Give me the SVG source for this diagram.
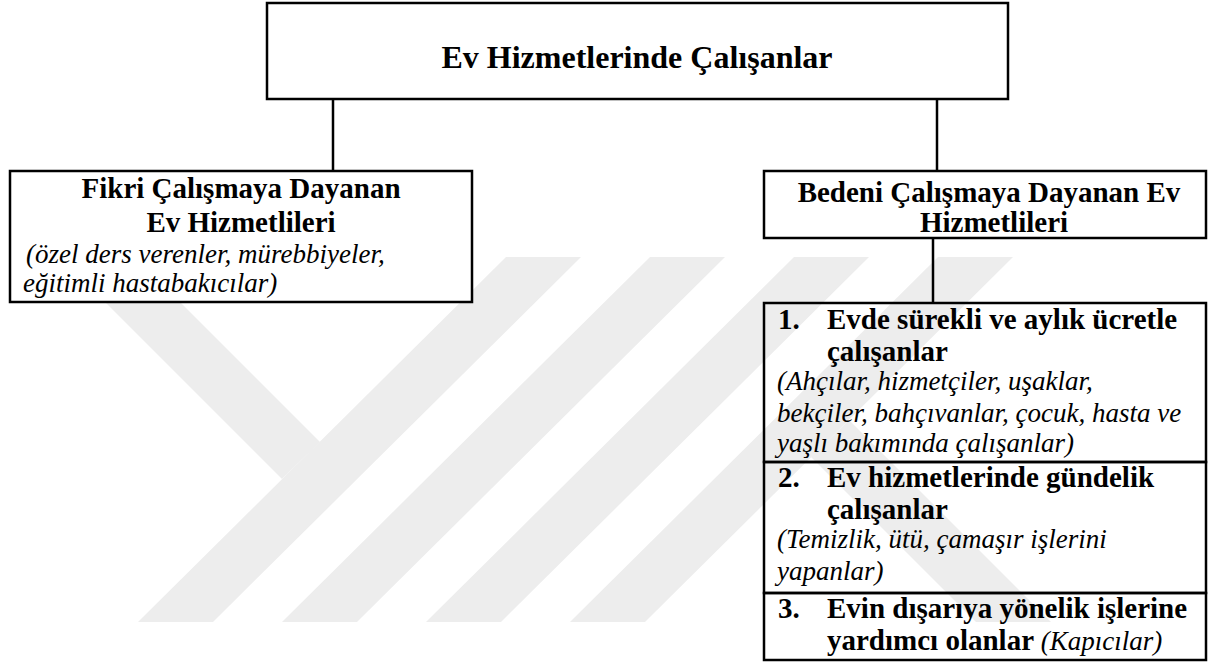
<svg xmlns="http://www.w3.org/2000/svg" width="1213" height="666" viewBox="0 0 1213 666">
<style>
  .box{fill:#ffffff;stroke:#000;stroke-width:2.5}
  .cell{fill:none;stroke:#000;stroke-width:2.5}
  .wire{stroke:#000;stroke-width:2.5;fill:none}
  .wm{fill:#ededed}
  .b{font-family:"Liberation Serif","Times New Roman",serif;font-weight:bold;font-size:29px;fill:#000}
  .i{font-family:"Liberation Serif","Times New Roman",serif;font-style:italic;font-size:27px;fill:#000}
  .t{font-family:"Liberation Serif","Times New Roman",serif;font-weight:bold;font-size:32px;fill:#000}
</style>
<rect width="1213" height="666" fill="#fff"/>
<g id="watermark">
  <polygon class="wm" points="138,622 213,622 581,257 506,257"/>
  <polygon class="wm" points="282,622 357,622 725,257 650,257"/>
  <polygon class="wm" points="426,622 501,622 869,257 794,257"/>
  <polygon class="wm" points="570,622 645,622 1013,257 938,257"/>
  <polygon class="wm" points="60,257 135,257 320,442 282,479"/>
  <polygon class="wm" points="849,420 1051,622 976,622 811,457"/>
</g>
<g id="connectors">
  <line class="wire" x1="333" y1="99" x2="333" y2="171"/>
  <line class="wire" x1="937" y1="99" x2="937" y2="171"/>
  <line class="wire" x1="933" y1="238" x2="933" y2="303"/>
</g>
<g id="root">
  <rect class="box" x="267" y="3" width="741" height="96"/>
  <text class="t" x="637" y="68" text-anchor="middle">Ev Hizmetlerinde Çalışanlar</text>
</g>
<g id="fikri">
  <rect class="box" x="10" y="171" width="462" height="131"/>
  <text class="b" x="241" y="198" text-anchor="middle">Fikri Çalışmaya Dayanan</text>
  <text class="b" x="241" y="232" text-anchor="middle">Ev Hizmetlileri</text>
  <text class="i" x="26" y="263">(özel ders verenler, mürebbiyeler,</text>
  <text class="i" x="23" y="292">eğitimli hastabakıcılar)</text>
</g>
<g id="bedeni">
  <rect class="box" x="764" y="171" width="442" height="67"/>
  <text class="b" x="989" y="202" text-anchor="middle">Bedeni Çalışmaya Dayanan Ev</text>
  <text class="b" x="994" y="232" text-anchor="middle">Hizmetlileri</text>
</g>
<g id="item1">
  <rect class="cell" x="764" y="303" width="442" height="159"/>
  <text class="b" x="778" y="329">1.</text>
  <text class="b" x="827" y="329">Evde sürekli ve aylık ücretle</text>
  <text class="b" x="827" y="361">çalışanlar</text>
  <text class="i" x="777" y="390">(Ahçılar, hizmetçiler, uşaklar,</text>
  <text class="i" x="777" y="422">bekçiler, bahçıvanlar, çocuk, hasta ve</text>
  <text class="i" x="777" y="452">yaşlı bakımında çalışanlar)</text>
</g>
<g id="item2">
  <rect class="cell" x="764" y="462" width="442" height="131"/>
  <text class="b" x="778" y="487">2.</text>
  <text class="b" x="827" y="487">Ev hizmetlerinde gündelik</text>
  <text class="b" x="827" y="519">çalışanlar</text>
  <text class="i" x="777" y="548">(Temizlik, ütü, çamaşır işlerini</text>
  <text class="i" x="777" y="580">yapanlar)</text>
</g>
<g id="item3">
  <rect class="cell" x="764" y="593" width="442" height="67"/>
  <text class="b" x="778" y="618">3.</text>
  <text class="b" x="827" y="618">Evin dışarıya yönelik işlerine</text>
  <text x="827" y="650"><tspan class="b">yardımcı olanlar </tspan><tspan class="i">(Kapıcılar)</tspan></text>
</g>
</svg>
